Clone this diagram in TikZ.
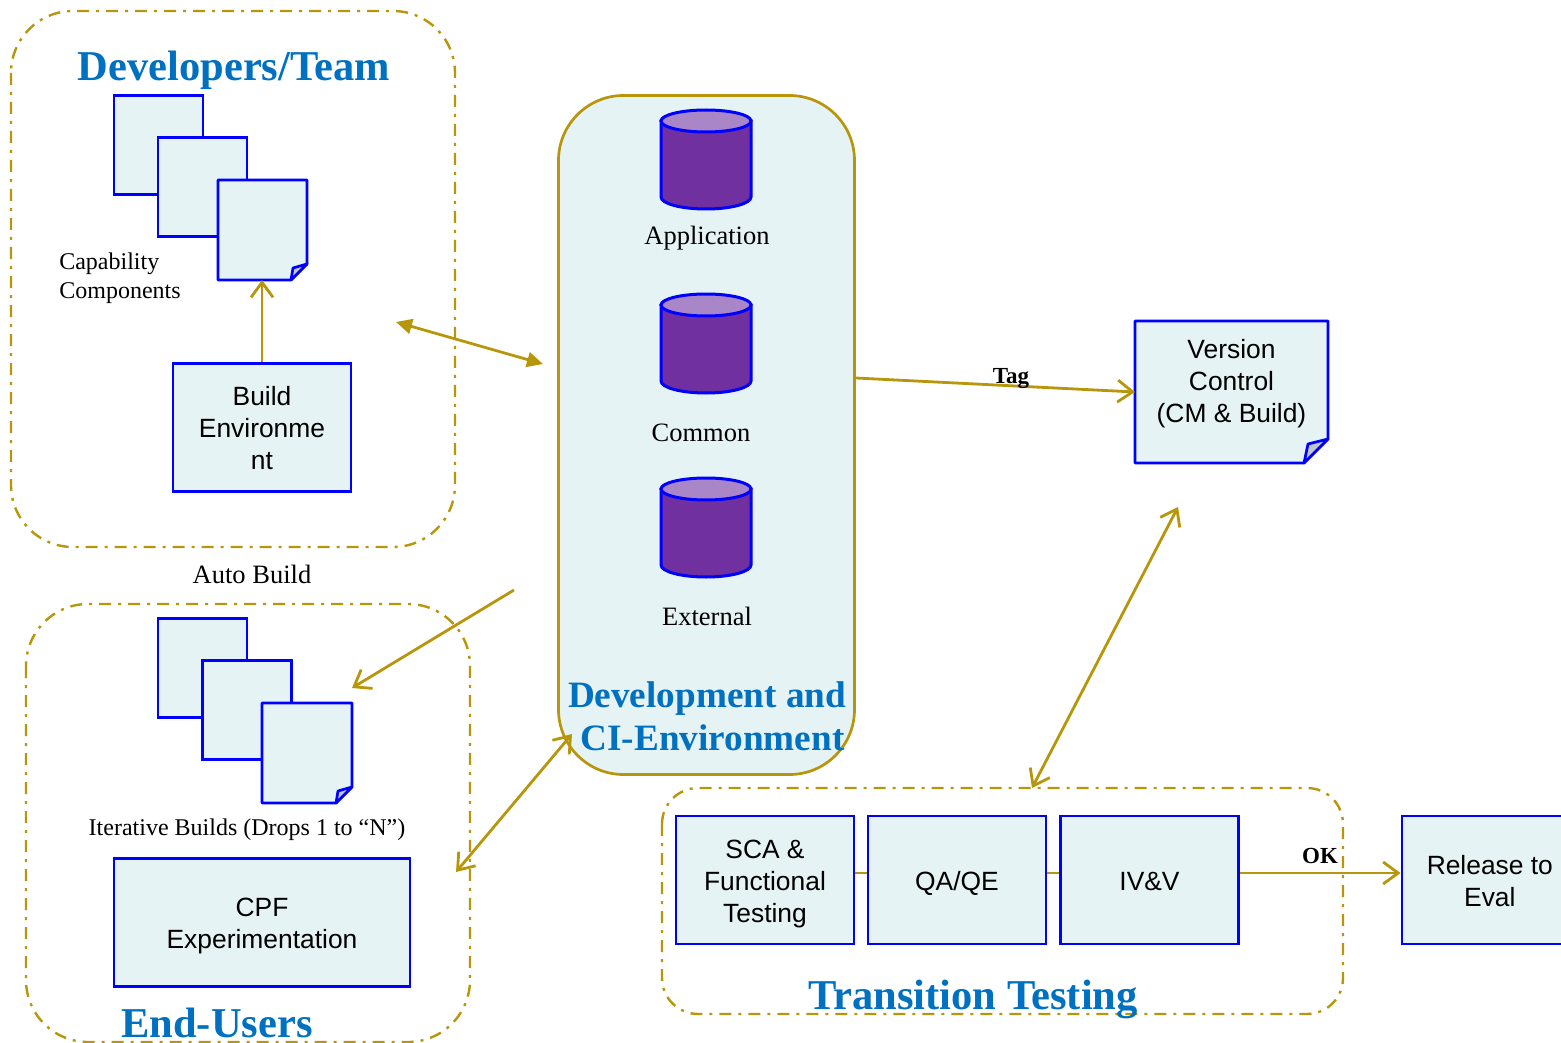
\documentclass[tikz,border=0pt]{standalone}
\usepackage{fontspec}
\setmainfont{Liberation Serif}
\setsansfont{Liberation Sans}
\usetikzlibrary{arrows.meta}
\definecolor{gold}{HTML}{B8960C}
\definecolor{boxblue}{HTML}{0000FF}
\definecolor{pale}{HTML}{E6F3F5}
\definecolor{titleblue}{HTML}{0070C0}
\definecolor{cylbody}{HTML}{7030A0}
\definecolor{cyltop}{HTML}{A986C8}
\definecolor{foldgray}{HTML}{C0C6CC}
\newcommand{\sst}{\rule[-6pt]{0pt}{32pt}}
\tikzset{
  x=1pt,y=-1pt,
  group/.style={draw=gold,line width=2.4pt,dash pattern=on 12pt off 7pt on 3pt off 7pt,rounded corners=62pt},
  sbox/.style={draw=boxblue,fill=pale,line width=2.7pt,rectangle,inner sep=0pt,align=center,xshift=-0.5pt,font=\fontsize{26.4}{32}\selectfont\sffamily},
  notebody/.style={draw=boxblue,fill=pale,line width=2.7pt,line join=round},
  foldpart/.style={draw=boxblue,fill=foldgray,line width=2.7pt,line join=round},
  notetext/.style={rectangle,inner sep=0pt,align=center,font=\fontsize{26.4}{32}\selectfont\sffamily},
  cylside/.style={draw=boxblue,fill=cylbody,line width=3pt},
  cyltopp/.style={draw=boxblue,fill=cyltop,line width=3pt},
  serif/.style={inner sep=0pt,align=left,font=\fontsize{24}{29}\selectfont},
  dblabel/.style={inner sep=0pt,align=left,font=\fontsize{26.5}{29}\selectfont},
  title/.style={inner sep=0pt,align=center,text=titleblue,font=\fontsize{42.5}{43}\selectfont\bfseries},
  titlesm/.style={inner sep=0pt,align=center,text=titleblue,font=\fontsize{37.2}{43}\selectfont\bfseries},
  tagl/.style={inner sep=0pt,font=\fontsize{23}{26}\selectfont\bfseries},
  conn/.style={draw=gold,line width=2.8pt},
  arr/.style={conn,-{Straight Barb[length=15pt,width=22pt,line width=2.8pt]}},
  darr/.style={conn,{Straight Barb[length=15pt,width=22pt,line width=2.8pt]}-{Straight Barb[length=15pt,width=22pt,line width=2.8pt]}},
  fdarr/.style={conn,{Triangle[length=16pt,width=15pt]}-{Triangle[length=16pt,width=15pt]}},
}
\newcommand{\notefold}[6]{% name, x0, y0, x1, y1, text
  \path[notebody] (#2,#3) -- (#4,#3) -- (#4,#5-24) -- (#4-24,#5) -- (#2,#5) -- cycle;
  \path[foldpart] (#4,#5-24) -- (#4-20,#5-19) -- (#4-24,#5) -- cycle;
  \node[notetext] (#1) at ({(#2+#4)/2},{(#3+#5)/2-12}) {#6};
}
\newcommand{\notesmall}[5]{% name, x0, y0, x1, y1
  \path[notebody] (#2,#3) -- (#4,#3) -- (#4,#5-16) -- (#4-16,#5) -- (#2,#5) -- cycle;
  \path[foldpart] (#4,#5-16) -- (#4-14,#5-12) -- (#4-16,#5) -- cycle;
  \coordinate (#1) at ({(#2+#4)/2},#5);
}
\newcommand{\dbcyl}[2]{% name, top y
  \path[cylside] (661,#2+12) -- (661,#2+88) arc[start angle=180,end angle=360,x radius=45,y radius=-12] -- (751,#2+12) -- cycle;
  \path[cyltopp] (706,#2+12) ellipse[x radius=45,y radius=11];
  \coordinate (#1) at (706,#2+50);
}
\begin{document}
\begin{tikzpicture}
\useasboundingbox (0,0) rectangle (1561,1043);
% groups
\draw[group] (11,11) rectangle (455,547);
\draw[group] (26,604) rectangle (470,1042);
\draw[group,rounded corners=36pt] (662,788) rectangle (1343,1014);
\node[draw=gold,fill=pale,line width=2.7pt,rectangle,rounded corners=65pt,minimum width=296pt,minimum height=679pt,inner sep=0pt] (ci) at (706.5,435) {};
% developers
\node[title] (devt) at (234,70) {Developers/Team};
\node[sbox,minimum width=89pt,minimum height=99pt] (d1) at (159,145) {};
\node[sbox,minimum width=89pt,minimum height=99pt] (d2) at (203,187) {};
\notesmall{d3}{218}{180}{307}{280}
\node[serif] (cap) at (120,278) {Capability\\Components};
\node[sbox,minimum width=178pt,minimum height=128pt] (build) at (262.5,427.5) {\sst Build\\\sst Environme\\\sst nt};
\draw[arr] (build.north) -- (build.north |- d3);
% DB
\dbcyl{c1}{109}
\node[dblabel] (l1) at (707,238) {Application};
\dbcyl{c2}{293}
\node[dblabel] (l2) at (701,433) {Common};
\dbcyl{c3}{477}
\node[dblabel] (l3) at (707,616) {External};
\node[titlesm] (cit) at (707,716.5) {Development and\\\hspace*{11pt}CI-Environment};
% version control
\notefold{vc}{1135}{321}{1328}{463}{\sst Version\\\sst Control\\\sst (CM \& Build)}
% end users
\node[sbox,minimum width=89pt,minimum height=99pt] (e1) at (203,668) {};
\node[sbox,minimum width=89pt,minimum height=99pt] (e2) at (247.5,710) {};
\notesmall{e3}{262}{703}{352}{803}
\node[serif] (ib) at (247,830) {Iterative Builds (Drops 1 to “N”)};
\node[sbox,minimum width=296pt,minimum height=128pt] (cpf) at (262.5,922.5) {\sst CPF\\\sst Experimentation};
\node[title] (eu) at (217,1023) {End-Users};
\node[dblabel] (ab) at (252,574.5) {Auto Build};
% transition
\node[sbox,minimum width=178pt,minimum height=128pt] (sca) at (765.5,880) {\sst SCA \&\\\sst Functional\\\sst Testing};
\node[sbox,minimum width=178pt,minimum height=128pt] (qa) at (957.5,880) {\sst QA/QE};
\node[sbox,minimum width=178pt,minimum height=128pt] (iv) at (1150,880) {\sst IV\&V};
\node[sbox,minimum width=170pt,minimum height=128pt,anchor=west] (rel) at (1401,880) {\sst\hspace*{6pt}Release to\\\sst\hspace*{6pt}Eval};
\node[title] (tt) at (973,999) {Transition Testing};
% connectors
\coordinate (a1) at (396,322);
\coordinate (a2) at (543,364);
\coordinate (b1) at (514,590);
\coordinate (b2) at (352,688);
\coordinate (c1a) at (456,872);
\coordinate (c2a) at (572,734);
\coordinate (f1) at (1178,507);
\coordinate (f2) at (1032,788);
\coordinate (tg) at (ci.east |- 0,378);
\coordinate (tge) at (1135,392);
\draw[fdarr] (a1) -- (a2);
\draw[arr] (b1) -- (b2);
\draw[darr] (c1a) -- (c2a);
\draw[darr] (f1) -- (f2);
\draw[arr] (tg) -- (tge);
\node[tagl] (tag) at (1011,379) {Tag};
\coordinate (s1) at (sca.east |- 0,873);
\coordinate (s2) at (qa.west |- 0,873);
\coordinate (s3) at (qa.east |- 0,873);
\coordinate (s4) at (iv.west |- 0,873);
\coordinate (s5) at (iv.east |- 0,873);
\coordinate (s6) at (rel.west |- 0,873);
\draw[conn] (s1) -- (s2);
\draw[conn] (s3) -- (s4);
\draw[arr] (s5) -- (s6);
\node[tagl] (ok) at (1320,856) {OK};
\end{tikzpicture}
\end{document}
